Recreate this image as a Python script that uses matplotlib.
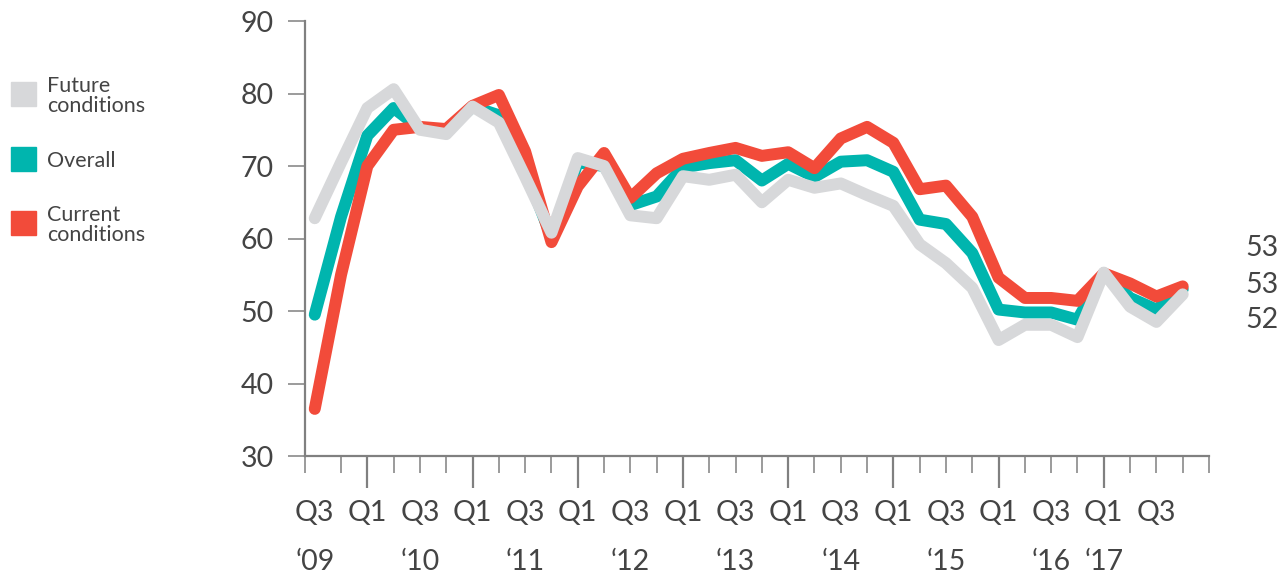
import matplotlib.pyplot as plt
from matplotlib.patches import Rectangle

# quarterly index values, Q3 2009 .. Q4 2017
quarters = ["Q3 09", "Q4 09", "Q1 10", "Q2 10", "Q3 10", "Q4 10", "Q1 11", "Q2 11",
            "Q3 11", "Q4 11", "Q1 12", "Q2 12", "Q3 12", "Q4 12", "Q1 13", "Q2 13",
            "Q3 13", "Q4 13", "Q1 14", "Q2 14", "Q3 14", "Q4 14", "Q1 15", "Q2 15",
            "Q3 15", "Q4 15", "Q1 16", "Q2 16", "Q3 16", "Q4 16", "Q1 17", "Q2 17",
            "Q3 17", "Q4 17"]
future = [62.8, 70.5, 78.0, 80.6, 75.0, 74.4, 78.2, 76.0, 68.5, 60.8, 71.1, 70.0,
          63.2, 62.8, 68.6, 68.1, 68.8, 65.0, 68.1, 67.0, 67.6, 66.0, 64.5, 59.2,
          56.6, 53.2, 46.0, 48.1, 48.1, 46.4, 55.3, 50.6, 48.5, 52.3]
overall = [49.5, 63.0, 74.2, 78.0, 75.2, 74.8, 78.2, 77.0, 69.5, 60.2, 70.5, 70.0,
           64.6, 65.8, 69.8, 70.4, 70.8, 68.0, 70.3, 68.5, 70.6, 70.8, 69.2, 62.6,
           62.0, 58.0, 50.2, 49.8, 49.8, 48.8, 55.2, 51.8, 50.2, 53.0]
current = [36.5, 55.0, 70.0, 75.0, 75.4, 75.1, 78.3, 79.8, 72.0, 59.5, 67.2, 71.8,
           65.6, 69.0, 71.0, 71.8, 72.5, 71.4, 71.9, 69.7, 73.8, 75.4, 73.2, 66.8,
           67.3, 63.0, 54.6, 51.8, 51.8, 51.4, 55.2, 53.8, 52.0, 53.4]

GRAY = "#d7d8da"
TEAL = "#00b5ae"
RED = "#f24b3a"
AXIS = "#808080"
TXT = "#444444"
FONT = "Lato"

plt.rcParams["font.family"] = [FONT, "DejaVu Sans"]

fig = plt.figure(figsize=(12.87, 5.76), dpi=100)
ax = fig.add_axes([0.237, 0.2083, 0.7024, 0.7552])

x = list(range(len(quarters)))
style = dict(lw=8.6, solid_capstyle="round", solid_joinstyle="round")
ax.plot(x, overall, color=TEAL, zorder=3, **style)
ax.plot(x, current, color=RED, zorder=4, **style)
ax.plot(x, future, color=GRAY, zorder=5, **style)

x0 = -0.37
ax.set_xlim(x0, 34)
ax.set_ylim(30, 90)

for s in ["top", "right"]:
    ax.spines[s].set_visible(False)
for s in ["left", "bottom"]:
    ax.spines[s].set_color(AXIS)
    ax.spines[s].set_linewidth(1.6)

ax.set_yticks(range(30, 91, 10))
ax.tick_params(axis="y", length=12.5, width=1.1, color=AXIS, pad=10,
               labelsize=20.5, labelcolor=TXT)

# long ticks on Q1, short ticks on the other quarters
q1 = [i for i, q in enumerate(quarters) if q.startswith("Q1")]
others = [x0] + [i for i in range(1, 35) if i not in q1]
ax.set_xticks(q1)
ax.set_xticks(others, minor=True)
ax.tick_params(axis="x", which="major", length=23, width=1.6, color=AXIS,
               labelbottom=False)
ax.tick_params(axis="x", which="minor", length=12.5, width=1.1, color=AXIS,
               labelbottom=False)

# quarter and year labels
tr = ax.get_xaxis_transform()
for i, q in enumerate(quarters):
    name, yr = q.split()
    if name in ("Q1", "Q3"):
        ax.text(i, -0.131, name, transform=tr, ha="center", va="center",
                fontsize=20.5, color=TXT)
    if (name == "Q3" and yr != "17") or q == "Q1 17":
        ax.text(i, -0.244, "\u2018" + yr, transform=tr, ha="center", va="center",
                fontsize=20.5, color=TXT)

# last values at the right end
end_y = [58.7, 53.6, 48.8]
for v, yy in zip([current[-1], overall[-1], future[-1]], end_y):
    ax.text(35.4, yy, f"{v:.0f}", ha="left", va="center", fontsize=20.5,
            color=TXT, clip_on=False)

# legend
legend = [("Future\nconditions", GRAY, 94), ("Overall", TEAL, 159),
          ("Current\nconditions", RED, 223)]
for label, col, yc in legend:
    fig.patches.append(Rectangle((11 / 1287, 1 - (yc + 12) / 576), 25 / 1287, 24 / 576,
                                 transform=fig.transFigure, color=col))
    fig.text(47.5 / 1287, 1 - (yc + 2) / 576, label, ha="left", va="center",
             fontsize=15.5, color=TXT, linespacing=1.0)

fig.savefig("out.png", dpi=100)
